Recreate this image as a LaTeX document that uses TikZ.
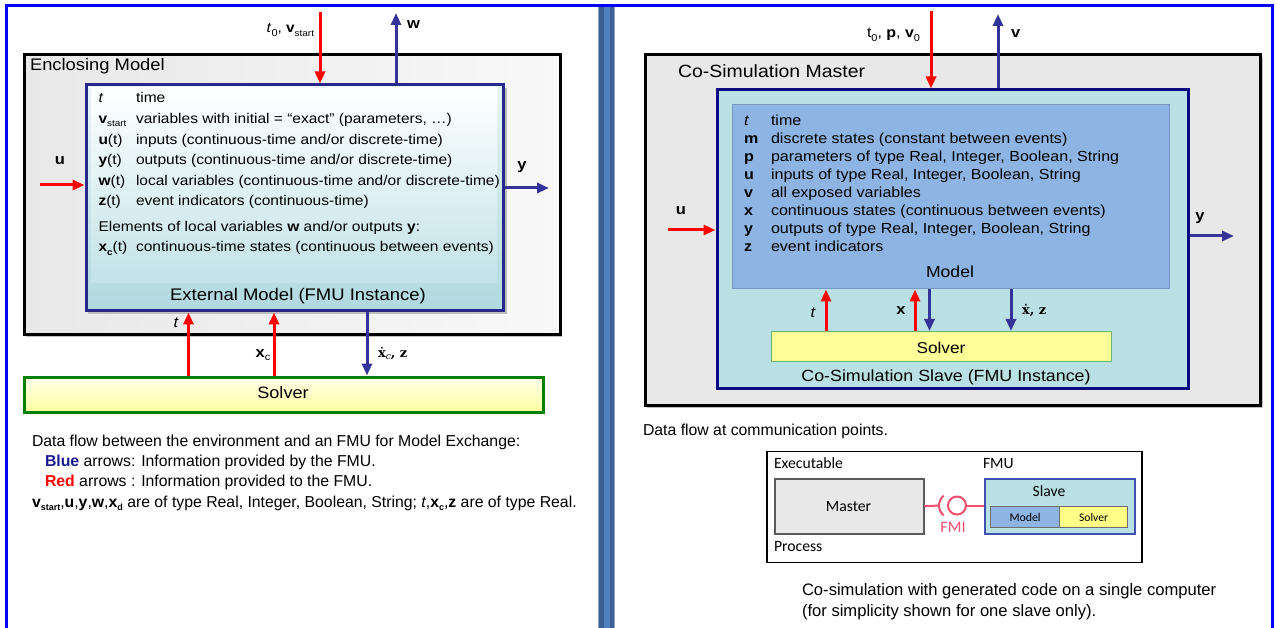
\documentclass[tikz,border=0pt]{standalone}
\usepackage{fontspec}
\setmainfont{Liberation Sans}[FakeStretch=1.1]
\newfontfamily\plainsf{Liberation Sans}
\newfontfamily\dvs{DejaVu Serif}
\newfontfamily\calib{Carlito}
\usetikzlibrary{arrows.meta}
\newcommand\fsz[1]{\fontsize{#1}{#1}\selectfont}
\newcommand\lowsub[2]{\raisebox{-0.22em}{\fsz{#1}#2}}
\definecolor{frameblue}{RGB}{0,0,255}
\definecolor{barmid}{RGB}{79,128,189}
\definecolor{bardark}{RGB}{60,96,145}
\definecolor{barlight}{RGB}{140,165,200}
\definecolor{arred}{RGB}{255,0,0}
\definecolor{arblue}{RGB}{51,51,153}
\definecolor{navy}{RGB}{40,40,140}
\definecolor{slavenavy}{RGB}{10,10,130}
\definecolor{tealbg}{RGB}{185,224,227}
\definecolor{modelblue}{RGB}{141,180,226}
\definecolor{modeledge}{RGB}{120,150,190}
\definecolor{solveryel}{RGB}{255,255,153}
\definecolor{solvergreen}{RGB}{0,128,0}
\definecolor{fmipink}{RGB}{240,80,110}
\definecolor{mastergray}{RGB}{232,232,232}
\definecolor{shadowgray}{RGB}{190,190,190}
\definecolor{captblue}{RGB}{26,26,140}
\begin{document}
\begin{tikzpicture}[x=1pt,y=-1pt,
  txt/.style={inner sep=0pt, outer sep=0pt},
  lst/.style={txt, anchor=base west, font=\fsz{14.1}},
  rl/.style={txt, anchor=base west, font=\fsz{14.6}},
  box/.style={inner sep=0pt, anchor=north west},
  redarr/.style={draw=arred, line width=3pt, -{Triangle[length=12pt,width=10pt]}},
  bluearr/.style={draw=arblue, line width=3pt, -{Triangle[length=12pt,width=10pt]}},
  fmiline/.style={draw=fmipink, line width=2pt},
  lbl/.style={txt, font=\fsz{15}\bfseries},
  caption/.style={txt, anchor=base west, font=\plainsf\fsz{15.8}},
]
\useasboundingbox (0,0) rectangle (1277,628);
\fill[white] (0,0) rectangle (1277,628);
% frame and separator
\draw[line width=3pt, frameblue] (6.5,628) -- (6.5,5.5) -- (1272,5.5) -- (1272,628);
\fill[barlight] (598,7) rectangle (615,628);
\fill[bardark] (599,7) rectangle (603.5,628);
\fill[barmid] (603.5,7) rectangle (610,628);
\fill[bardark] (610,7) rectangle (614,628);

% ================= LEFT PANEL =================
\fill[shadowgray] (26,57) rectangle (562,337);
\node[box, draw=black, line width=3pt, left color={rgb,255:red,232;green,232;blue,232}, right color={rgb,255:red,248;green,248;blue,248}, minimum width=536pt, minimum height=279pt] (encl) at (22.5,53.5) {};
\node[txt, anchor=base west, font=\fsz{16.7}] (enclt) at (30,71) {Enclosing Model};

\fill[shadowgray] (88,88) rectangle (507,314);
\node[box, draw=navy, line width=3pt, top color={rgb,255:red,232;green,245;blue,247}, bottom color={rgb,255:red,176;green,217;blue,223}, minimum width=417pt, minimum height=226pt] (fmu) at (84.5,83.5) {};
\node[box, top color=white, bottom color={rgb,255:red,194;green,227;blue,232}, minimum width=406pt, minimum height=195pt] (fmulist) at (91,87) {};
\node[txt, anchor=base, font=\fsz{16.8}] (fmut) at (298,301) {External Model (FMU Instance)};

\node[lst] (l1s) at (98.5,103) {\textit{t}};
\node[lst] (l1d) at (136,103) {time};
\node[lst] (l2s) at (98.5,123.6) {\textbf{v}\lowsub{9}{start}};
\node[lst] (l2d) at (136,123.6) {variables with initial = “exact” (parameters, …)};
\node[lst] (l3s) at (98.5,144.2) {\textbf{u}(t)};
\node[lst] (l3d) at (136,144.2) {inputs (continuous-time and/or discrete-time)};
\node[lst] (l4s) at (98.5,164.8) {\textbf{y}(t)};
\node[lst] (l4d) at (136,164.8) {outputs (continuous-time and/or discrete-time)};
\node[lst] (l5s) at (98.5,185.4) {\textbf{w}(t)};
\node[lst] (l5d) at (136,185.4) {local variables (continuous-time and/or discrete-time)};
\node[lst] (l6s) at (98.5,206) {\textbf{z}(t)};
\node[lst] (l6d) at (136,206) {event indicators (continuous-time)};
\node[lst] (l7) at (98.5,231.5) {Elements of local variables \textbf{w} and/or outputs \textbf{y}:};
\node[lst] (l8s) at (98.5,252) {\textbf{x}\lowsub{9}{\bfseries c}(t)};
\node[lst] (l8d) at (136,252) {continuous-time states (continuous between events)};

% top arrows
\coordinate (tinL) at (320,12);
\draw[redarr] (tinL) -- (tinL |- fmu.north);
\node[txt, anchor=base east, font=\fsz{14}] (tinLl) at (314,33) {\textit{t}\lowsub{10}{0}, \textbf{v}\lowsub{9}{start}};
\coordinate (woutL) at (396,13);
\draw[bluearr] (woutL |- fmu.north) -- (woutL);
\node[lbl, anchor=base west] (woutLl) at (407,29) {w};
% side arrows
\coordinate (uinL) at (40,185);
\draw[redarr] (uinL) -- (uinL -| fmu.west);
\node[lbl, anchor=base] (uinLl) at (60,165) {u};
\coordinate (youtL) at (549,188);
\draw[bluearr] (youtL -| fmu.east) -- (youtL);
\node[lbl, anchor=base] (youtLl) at (522,170) {y};

% solver
\node[box, draw=solvergreen, line width=3pt, top color={rgb,255:red,255;green,255;blue,235}, bottom color={rgb,255:red,255;green,255;blue,160}, minimum width=519pt, minimum height=35pt] (solverL) at (23,375.5) {};
\node[txt, anchor=base, font=\fsz{16.5}] (solverLt) at (283,398) {Solver};
\coordinate (a1) at (188.5,0);
\coordinate (a2) at (274,0);
\coordinate (a3) at (367,0);
\draw[redarr] (a1 |- solverL.north) -- (a1 |- fmu.south);
\draw[redarr] (a2 |- solverL.north) -- (a2 |- fmu.south);
\draw[bluearr] (a3 |- fmu.south) -- (a3 |- solverL.north);
\node[txt, anchor=base, font=\fsz{15}\itshape] (a1l) at (176,327) {t};
\node[txt, anchor=base, font=\fsz{15}] (a2l) at (263,357) {\textbf{x}\lowsub{10}{c}};
\node[txt, anchor=base west, font=\dvs\fsz{13}] (a3l) at (378,357) {\textbf{ẋ}\lowsub{9}{\itshape c}\textbf{, z}};

% caption left
\node[caption] (c1) at (32,446.5) {Data flow between the environment and an FMU for Model Exchange:};
\node[caption] (c2) at (45,466.7) {\textcolor{captblue}{\textbf{Blue}} arrows: Information provided by the FMU.};
\node[caption] (c3) at (45,486.7) {\textcolor{arred}{\textbf{Red}} arrows : Information provided to the FMU.};
\node[caption] (c4) at (32,507) {\textbf{v}\lowsub{9}{\bfseries start},\textbf{u},\textbf{y},\textbf{w},\textbf{x}\lowsub{9}{\bfseries d} are of type Real, Integer, Boolean, String; \textit{t},\textbf{x}\lowsub{9}{\bfseries c},\textbf{z} are of type Real.};

% ================= RIGHT PANEL =================
\fill[shadowgray] (647,57) rectangle (1263,408);
\node[box, draw=black, line width=3pt, fill=mastergray, minimum width=615pt, minimum height=350pt] (master) at (643.5,53.5) {};
\node[txt, anchor=base west, font=\fsz{17.7}] (mastert) at (678,78) {Co-Simulation Master};

\node[box, draw=slavenavy, line width=3pt, fill=tealbg, minimum width=471pt, minimum height=298pt] (slave) at (715.5,88.5) {};
\node[box, draw=modeledge, line width=1pt, fill=modelblue, minimum width=437pt, minimum height=184pt] (model) at (731.5,104.5) {};
\node[txt, anchor=base, font=\fsz{16}] (modelt) at (950,278) {Model};

\node[rl] (r1s) at (744,125.5) {\textit{t}};
\node[rl] (r1d) at (771,125.5) {time};
\node[rl] (r2s) at (744,143.5) {\textbf{m}};
\node[rl] (r2d) at (771,143.5) {discrete states (constant between events)};
\node[rl] (r3s) at (744,161.6) {\textbf{p}};
\node[rl] (r3d) at (771,161.6) {parameters of type Real, Integer, Boolean, String};
\node[rl] (r4s) at (744,179.6) {\textbf{u}};
\node[rl] (r4d) at (771,179.6) {inputs of type Real, Integer, Boolean, String};
\node[rl] (r5s) at (744,197.7) {\textbf{v}};
\node[rl] (r5d) at (771,197.7) {all exposed variables};
\node[rl] (r6s) at (744,215.7) {\textbf{x}};
\node[rl] (r6d) at (771,215.7) {continuous states (continuous between events)};
\node[rl] (r7s) at (744,233.8) {\textbf{y}};
\node[rl] (r7d) at (771,233.8) {outputs of type Real, Integer, Boolean, String};
\node[rl] (r8s) at (744,251.8) {\textbf{z}};
\node[rl] (r8d) at (771,251.8) {event indicators};

\node[box, draw={rgb,255:red,110;green,180;blue,110}, line width=1pt, fill=solveryel, minimum width=340pt, minimum height=30pt] (solverR) at (770.5,331) {};
\node[txt, anchor=base, font=\fsz{15.7}] (solverRt) at (941,353) {Solver};
\node[txt, anchor=base, font=\fsz{16.2}] (slavet) at (946,381) {Co-Simulation Slave (FMU Instance)};

\coordinate (b1) at (826,0);
\coordinate (b2) at (915,0);
\coordinate (b3) at (929.5,0);
\coordinate (b4) at (1011,0);
\draw[redarr] (b1 |- solverR.north) -- (b1 |- model.south);
\draw[redarr] (b2 |- solverR.north) -- (b2 |- model.south);
\draw[bluearr] (b3 |- model.south) -- (b3 |- solverR.north);
\draw[bluearr] (b4 |- model.south) -- (b4 |- solverR.north);
\node[txt, anchor=base, font=\fsz{15}\itshape] (b1l) at (813,317) {t};
\node[lbl, anchor=base] (b2l) at (901,315) {x};
\node[txt, anchor=base west, font=\dvs\fsz{13}\bfseries] (b4l) at (1022,315) {ẋ, z};

% top arrows right
\coordinate (tinR) at (931,11);
\draw[redarr] (tinR) -- (tinR |- slave.north);
\node[txt, anchor=base east, font=\fsz{14.5}] (tinRl) at (920,38) {t\lowsub{10}{0}, \textbf{p}, \textbf{v}\lowsub{10}{0}};
\coordinate (voutR) at (998,14);
\draw[bluearr] (voutR |- slave.north) -- (voutR);
\node[lbl, anchor=base west] (voutRl) at (1011,38) {v};
\coordinate (uinR) at (668,230);
\draw[redarr] (uinR) -- (uinR -| slave.west);
\node[lbl, anchor=base] (uinRl) at (681,215) {u};
\coordinate (youtR) at (1234,236);
\draw[bluearr] (youtR -| slave.east) -- (youtR);
\node[lbl, anchor=base] (youtRl) at (1200,221) {y};

\node[txt, anchor=base west, font=\plainsf\fsz{15.8}] (dfc) at (643,435) {Data flow at communication points.};

% bottom diagram
\node[box, draw=black, line width=1.8pt, fill=white, minimum width=375pt, minimum height=111pt] (exe) at (766,450.5) {};
\node[txt, anchor=base west, font=\calib\fsz{15.7}] (exet) at (774,468) {Executable};
\node[txt, anchor=base west, font=\calib\fsz{15.7}] (fmut2) at (983,468) {FMU};
\node[txt, anchor=base west, font=\calib\fsz{15.7}] (proct) at (774,551) {Process};
\node[box, draw={rgb,255:red,90;green,90;blue,90}, line width=1.5pt, fill=mastergray, minimum width=149pt, minimum height=55pt] (mst) at (774,478) {};
\node[txt, anchor=base, font=\calib\fsz{15.7}] (mstt) at (848.5,511) {Master};
\node[box, draw={rgb,255:red,64;green,80;blue,176}, line width=1.5pt, fill=tealbg, minimum width=150pt, minimum height=55pt] (slv) at (984,478) {};
\node[txt, anchor=base, font=\calib\fsz{15.6}] (slvt) at (1049,496) {Slave};
\node[box, draw={rgb,255:red,110;green,110;blue,110}, line width=1.2pt, fill=modelblue, minimum width=69pt, minimum height=21pt] (smod) at (990,506) {};
\node[box, draw={rgb,255:red,110;green,110;blue,110}, line width=1.2pt, fill={rgb,255:red,255;green,255;blue,136}, minimum width=68pt, minimum height=21pt] (ssol) at (1059,506) {};
\node[txt, font=\calib\fsz{11.8}] (smodt) at (smod.center) {Model};
\node[txt, font=\calib\fsz{11.6}] (ssolt) at (ssol.center) {Solver};
\coordinate (sockL) at (939,505.5);
\draw[fmiline] (mst.east) -- (sockL);
\draw[fmiline] (952,505.5) ++(130:13) arc (130:230:13);
\node[circle, draw=fmipink, line width=2pt, minimum size=18pt, inner sep=0pt] (ball) at (957,505.5) {};
\draw[fmiline] (ball.east) -- (ball.east -| slv.west);
\node[txt, anchor=base, font=\calib\fsz{16}, text=fmipink] (fmit) at (953,532) {FMI};

\node[txt, anchor=base west, font=\plainsf\fsz{16.6}] (cap1) at (802,595) {Co-simulation with generated code on a single computer};
\node[txt, anchor=base west, font=\plainsf\fsz{16.6}] (cap2) at (802,616) {(for simplicity shown for one slave only).};
\end{tikzpicture}
\end{document}
